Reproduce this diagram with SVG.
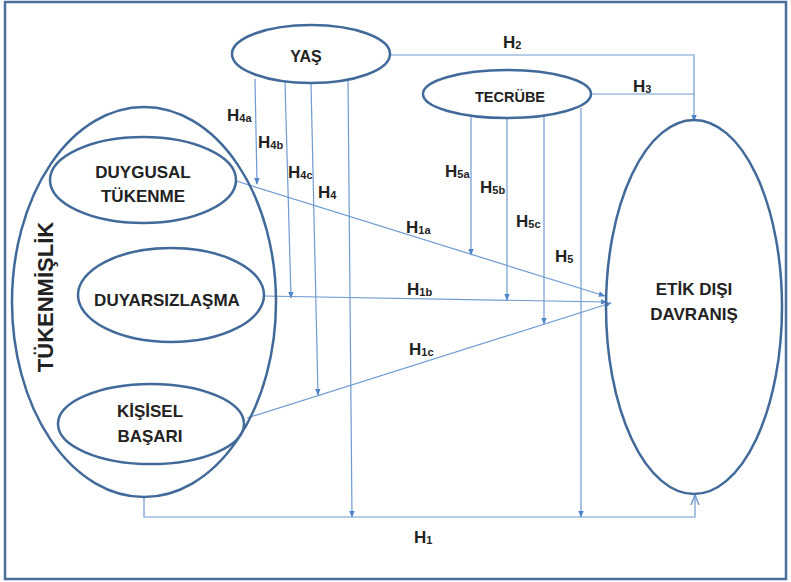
<svg xmlns="http://www.w3.org/2000/svg" width="791" height="582" viewBox="0 0 791 582">
<defs>
<style>
.node{fill:none;stroke:#41699a;stroke-width:2.5}
.t{font-family:"Liberation Sans",Arial,sans-serif;font-weight:bold;fill:#222;text-anchor:middle}
.lbl{font-family:"Liberation Sans",Arial,sans-serif;font-weight:bold;fill:#222;font-size:17px}
.sub{font-size:11px}
.c{fill:none;stroke:#6f9ad3;stroke-width:1.2}
.a{marker-end:url(#arr)}
</style>
<marker id="arr" viewBox="0 0 10 10" refX="9" refY="5" markerWidth="7" markerHeight="7" orient="auto" markerUnits="userSpaceOnUse">
<path d="M0,1 L10,5 L0,9 Z" fill="#4f85c9"/>
</marker>
<marker id="open" viewBox="0 0 10 10" refX="9" refY="5" markerWidth="10" markerHeight="10" orient="auto" markerUnits="userSpaceOnUse">
<path d="M0,1 L10,5 L0,9" fill="none" stroke="#6f9ad3" stroke-width="1.5"/>
</marker>
</defs>
<rect width="791" height="582" fill="#fff"/>
<rect x="5" y="2" width="781" height="577" fill="none" stroke="#4a6f9c" stroke-width="2.5"/>

<g id="connectors">
<path class="c a" d="M390,55 L694,55 L694,121"/>
<path class="c" d="M592,94 L694,94"/>
<path class="c a" d="M255,79 L257,184"/>
<path class="c a" d="M285,82 L291,298"/>
<path class="c a" d="M311,83 L318,395"/>
<path class="c a" d="M348,80 L352,517"/>
<path class="c a" d="M471,116 L471,255"/>
<path class="c a" d="M507,118 L507,300"/>
<path class="c a" d="M544,116 L544,324"/>
<path class="c a" d="M581,108 L581,517"/>
<path class="c a" d="M236,181 L605,296"/>
<path class="c a" d="M263,296 L607,302"/>
<path class="c a" d="M247,418 L611,303"/>
<path class="c" d="M144,497 L144,517 L695,517 L695,496" marker-end="url(#open)"/>
</g>

<g id="tukenmislik">
<ellipse class="node" cx="144" cy="302" rx="132" ry="195"/>
<text class="t" font-size="22" transform="translate(53,297) rotate(-90)">TÜKENMİŞLİK</text>
</g>
<g id="duygusal">
<ellipse class="node" cx="143" cy="180" rx="93" ry="43"/>
<text class="t" font-size="17" x="143" y="178">DUYGUSAL</text>
<text class="t" font-size="17" x="143" y="202">TÜKENME</text>
</g>
<g id="duyarsizlasma">
<ellipse class="node" cx="171" cy="295" rx="93" ry="47"/>
<text class="t" font-size="17" x="167" y="306">DUYARSIZLAŞMA</text>
</g>
<g id="kisisel">
<ellipse class="node" cx="151" cy="424" rx="93" ry="40"/>
<text class="t" font-size="17" x="150" y="417">KİŞİSEL</text>
<text class="t" font-size="17" x="150" y="442">BAŞARI</text>
</g>
<g id="yas">
<ellipse class="node" cx="311" cy="54" rx="79" ry="29"/>
<text class="t" font-size="16" x="306" y="62">YAŞ</text>
</g>
<g id="tecrube">
<ellipse class="node" cx="507" cy="94" rx="84" ry="24"/>
<text class="t" font-size="14.5" x="510" y="102">TECRÜBE</text>
</g>
<g id="etik">
<ellipse class="node" cx="694" cy="307" rx="88" ry="187"/>
<text class="t" font-size="17" x="694" y="295">ETİK DIŞI</text>
<text class="t" font-size="17" x="694" y="320">DAVRANIŞ</text>
</g>

<g id="labels">
<text class="lbl" x="503" y="48">H<tspan class="sub" dy="1">2</tspan></text>
<text class="lbl" x="633" y="92">H<tspan class="sub" dy="1">3</tspan></text>
<text class="lbl" x="227" y="121">H<tspan class="sub" dy="1">4a</tspan></text>
<text class="lbl" x="258" y="148">H<tspan class="sub" dy="1">4b</tspan></text>
<text class="lbl" x="288" y="178">H<tspan class="sub" dy="1">4c</tspan></text>
<text class="lbl" x="318" y="198">H<tspan class="sub" dy="1">4</tspan></text>
<text class="lbl" x="445" y="177">H<tspan class="sub" dy="1">5a</tspan></text>
<text class="lbl" x="480" y="193">H<tspan class="sub" dy="1">5b</tspan></text>
<text class="lbl" x="516" y="227">H<tspan class="sub" dy="1">5c</tspan></text>
<text class="lbl" x="555" y="262">H<tspan class="sub" dy="1">5</tspan></text>
<text class="lbl" x="406" y="233">H<tspan class="sub" dy="1">1a</tspan></text>
<text class="lbl" x="407" y="295">H<tspan class="sub" dy="1">1b</tspan></text>
<text class="lbl" x="409" y="355">H<tspan class="sub" dy="1">1c</tspan></text>
<text class="lbl" x="414" y="543">H<tspan class="sub" dy="1">1</tspan></text>
</g>
</svg>
